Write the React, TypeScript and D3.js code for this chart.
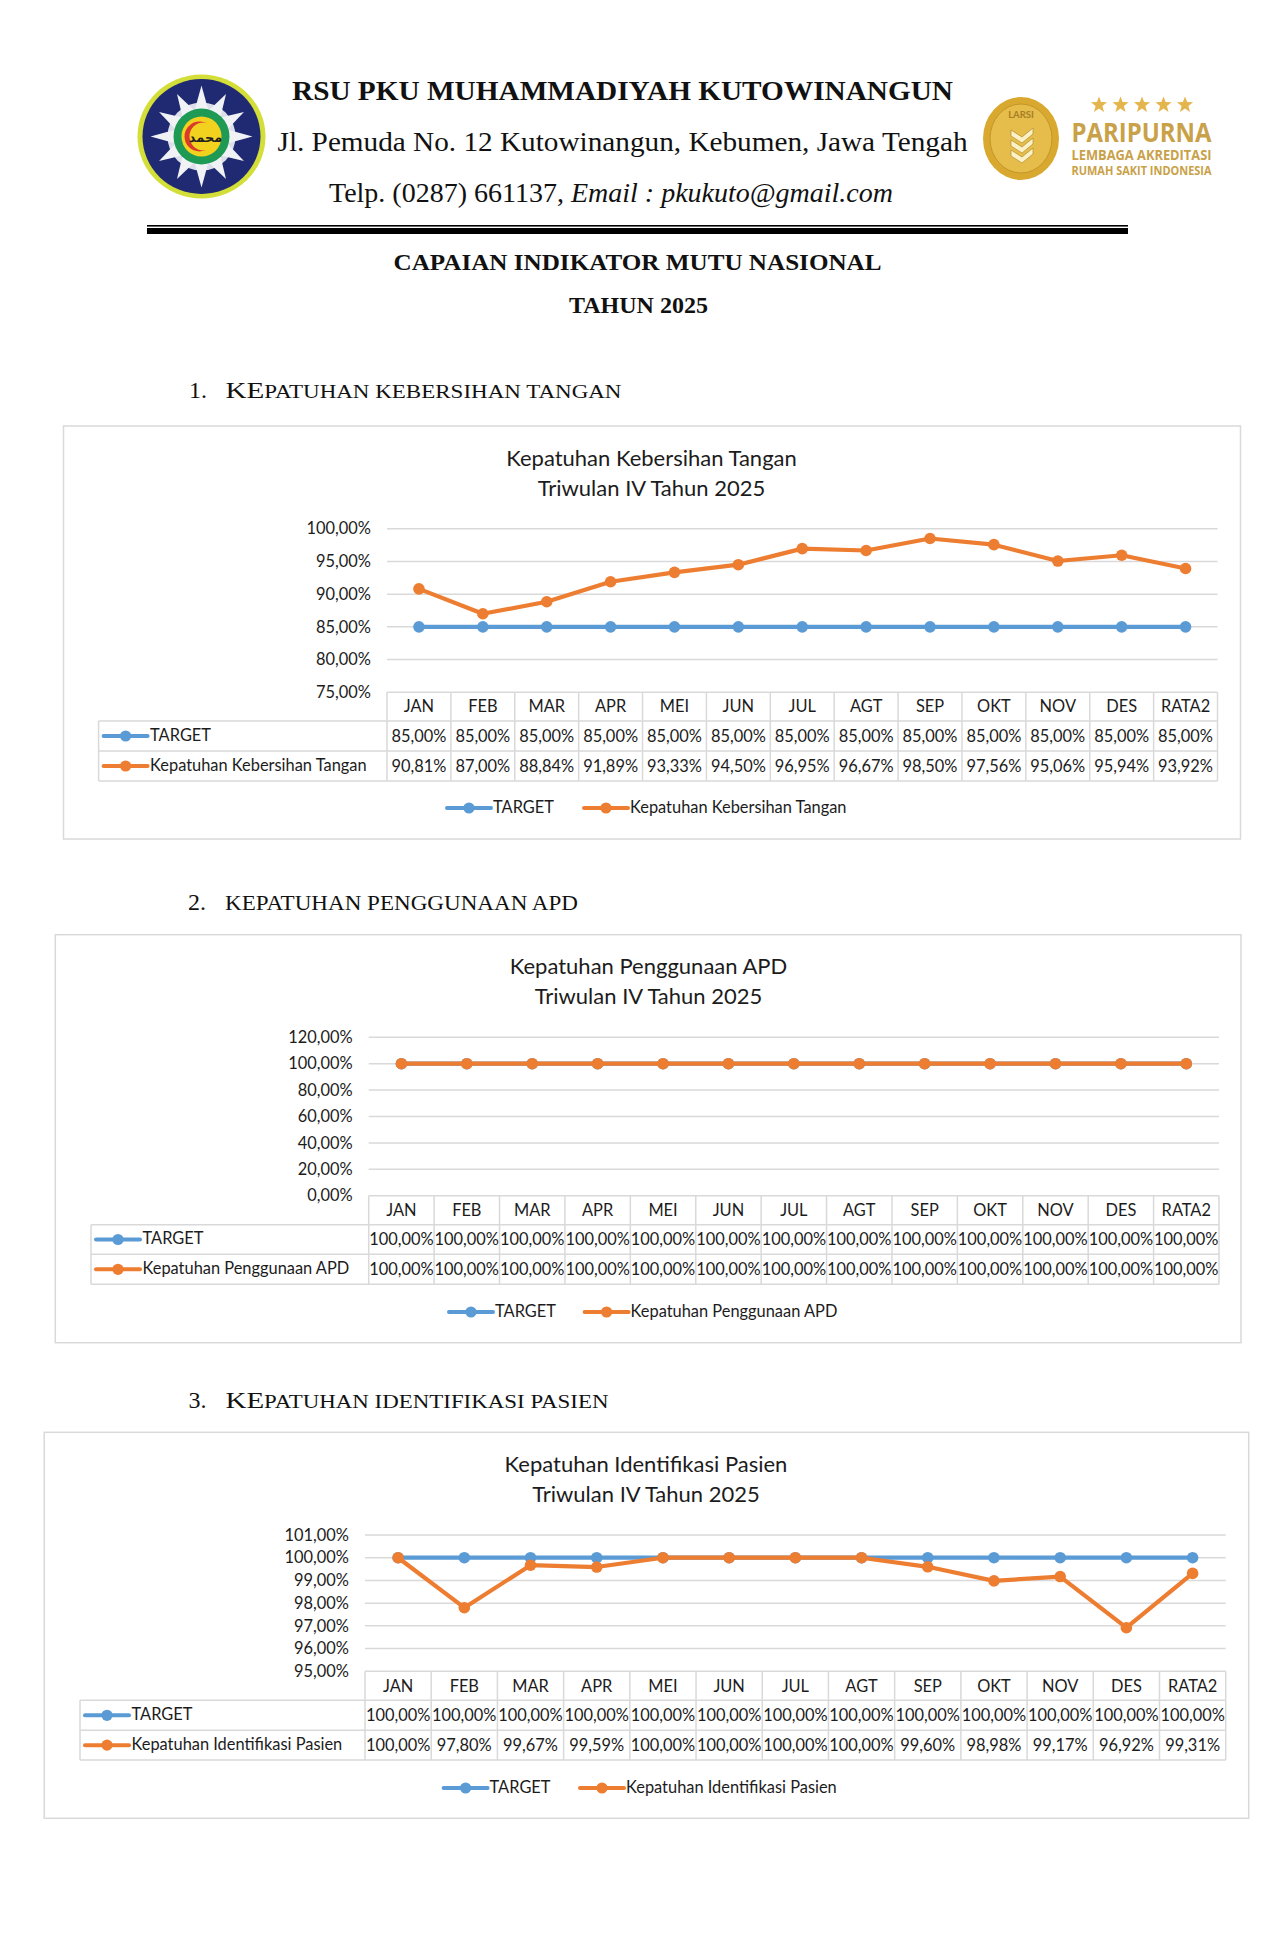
import React from "react";
import * as d3 from "d3";

// ---------- data ----------
const months = ["JAN", "FEB", "MAR", "APR", "MEI", "JUN", "JUL", "AGT", "SEP", "OKT", "NOV", "DES", "RATA2"];

const targetTangan = [85, 85, 85, 85, 85, 85, 85, 85, 85, 85, 85, 85, 85];
const capaianTangan = [90.81, 87.0, 88.84, 91.89, 93.33, 94.5, 96.95, 96.67, 98.5, 97.56, 95.06, 95.94, 93.92];
const ticksTangan = [75, 80, 85, 90, 95, 100];

const targetApd = [100, 100, 100, 100, 100, 100, 100, 100, 100, 100, 100, 100, 100];
const capaianApd = [100, 100, 100, 100, 100, 100, 100, 100, 100, 100, 100, 100, 100];
const ticksApd = [0, 20, 40, 60, 80, 100, 120];

const targetPasien = [100, 100, 100, 100, 100, 100, 100, 100, 100, 100, 100, 100, 100];
const capaianPasien = [100, 97.8, 99.67, 99.59, 100, 100, 100, 100, 99.6, 98.98, 99.17, 96.92, 99.31];
const ticksPasien = [95, 96, 97, 98, 99, 100, 101];

const BLUE = "#5B9BD5";
const ORANGE = "#ED7D31";
const GRID = "#D9D9D9";
const INK = "#1c1c1c";
const SANS = "Lato, 'Open Sans', sans-serif";
const SERIF = "'Liberation Serif', serif";
const GOLD = "#C9A148";

const pct = (v: number) => `${v.toFixed(2).replace(".", ",")}%`;

type ChartProps = {
  title: string;
  name: string;
  target: number[];
  actual: number[];
  ticks: number[];
  frame: [number, number, number, number];
  titleX: number;
  titleY: [number, number];
  labelLeft: number;
  tableX: [number, number];
  gridTop: number;
  rows: [number, number, number, number];
  legendY: number;
  legendX: [number, number];
  cellFont?: number;
};

function Key({ x, y, color }: { x: number; y: number; color: string }) {
  return (
    <g>
      <line x1={x} x2={x + 44} y1={y} y2={y} stroke={color} strokeWidth={4} strokeLinecap="round" />
      <circle cx={x + 22} cy={y} r={5.6} fill={color} />
    </g>
  );
}

function Chart(p: ChartProps) {
  const [fx0, fy0, fx1, fy1] = p.frame;
  const [r0, r1, r2, r3] = p.rows;
  const x = d3.scaleBand<string>().domain(months).range(p.tableX);
  const y = d3
    .scaleLinear()
    .domain([p.ticks[0], p.ticks[p.ticks.length - 1]])
    .range([r0, p.gridTop]);
  const line = d3
    .line<number>()
    .x((_, i) => (x(months[i]) as number) + x.bandwidth() / 2)
    .y((d) => y(d));
  const series = [
    { values: p.target, color: BLUE },
    { values: p.actual, color: ORANGE },
  ];
  const tableRight = p.tableX[1];
  const rowMid = (a: number, b: number) => (a + b) / 2;
  const txt = { fontFamily: SANS, fill: INK };
  const cellFont = p.cellFont ?? 16.4;
  return (
    <g>
      <rect x={fx0} y={fy0} width={fx1 - fx0} height={fy1 - fy0} fill="#fff" stroke={GRID} strokeWidth={1.5} />
      <text x={p.titleX} y={p.titleY[0]} dy="0.35em" textAnchor="middle" fontSize={22} {...txt}>{p.title}</text>
      <text x={p.titleX} y={p.titleY[1]} dy="0.35em" textAnchor="middle" fontSize={22} {...txt}>Triwulan IV Tahun 2025</text>

      {p.ticks.map((t) => (
        <g key={t}>
          {t !== p.ticks[0] && (
            <line x1={p.tableX[0]} x2={tableRight} y1={y(t)} y2={y(t)} stroke={GRID} strokeWidth={1.5} />
          )}
          <text x={p.tableX[0] - 16} y={y(t)} dy="0.35em" textAnchor="end" fontSize={16.4} {...txt}>{pct(t)}</text>
        </g>
      ))}

      {/* data table */}
      <g stroke={GRID} strokeWidth={1.5}>
        <line x1={p.tableX[0]} x2={tableRight} y1={r0} y2={r0} />
        <line x1={p.labelLeft} x2={tableRight} y1={r1} y2={r1} />
        <line x1={p.labelLeft} x2={tableRight} y1={r2} y2={r2} />
        <line x1={p.labelLeft} x2={tableRight} y1={r3} y2={r3} />
        <line x1={p.labelLeft} x2={p.labelLeft} y1={r1} y2={r3} />
        {months.map((m) => (
          <line key={m} x1={x(m) as number} x2={x(m) as number} y1={r0} y2={r3} />
        ))}
        <line x1={tableRight} x2={tableRight} y1={r0} y2={r3} />
      </g>
      {months.map((m, i) => {
        const cx = (x(m) as number) + x.bandwidth() / 2;
        return (
          <g key={m} textAnchor="middle" fontSize={cellFont}>
            <text x={cx} y={rowMid(r0, r1)} dy="0.35em" fontSize={16.4} {...txt}>{m}</text>
            <text x={cx} y={rowMid(r1, r2)} dy="0.35em" {...txt}>{pct(p.target[i])}</text>
            <text x={cx} y={rowMid(r2, r3)} dy="0.35em" {...txt}>{pct(p.actual[i])}</text>
          </g>
        );
      })}
      <Key x={p.labelLeft + 5} y={rowMid(r1, r2)} color={BLUE} />
      <Key x={p.labelLeft + 5} y={rowMid(r2, r3)} color={ORANGE} />
      <text x={p.labelLeft + 51.5} y={rowMid(r1, r2) - 1} dy="0.35em" fontSize={16.4} {...txt}>TARGET</text>
      <text x={p.labelLeft + 51.5} y={rowMid(r2, r3) - 1} dy="0.35em" fontSize={16.4} {...txt}>{p.name}</text>

      {/* series */}
      {series.map((s, k) => (
        <g key={k}>
          <path d={line(s.values) as string} fill="none" stroke={s.color} strokeWidth={4.2} strokeLinecap="round" strokeLinejoin="round" />
          {s.values.map((v, i) => (
            <circle key={i} cx={(x(months[i]) as number) + x.bandwidth() / 2} cy={y(v)} r={5.8} fill={s.color} />
          ))}
        </g>
      ))}

      {/* legend */}
      <Key x={p.legendX[0]} y={p.legendY} color={BLUE} />
      <text x={p.legendX[0] + 46} y={p.legendY - 1} dy="0.35em" fontSize={16.4} {...txt}>TARGET</text>
      <Key x={p.legendX[1]} y={p.legendY} color={ORANGE} />
      <text x={p.legendX[1] + 46} y={p.legendY - 1} dy="0.35em" fontSize={16.4} {...txt}>{p.name}</text>
    </g>
  );
}

function starPath(cx: number, cy: number, R: number) {
  const pts = d3.range(10).map((i) => {
    const a = -Math.PI / 2 + (i * Math.PI) / 5;
    const r = i % 2 === 0 ? R : R * 0.42;
    return [cx + r * Math.cos(a), cy + r * Math.sin(a)] as [number, number];
  });
  return (d3.line()(pts) as string) + "Z";
}

function LogoLeft() {
  const cx = 201.5;
  const cy = 136.5;
  return (
    <g>
      <ellipse cx={cx} cy={cy} rx={64} ry={62} fill="#D3DE38" />
      <ellipse cx={cx} cy={cy} rx={59} ry={57.5} fill="#1F2A72" />
      {d3.range(12).map((i) => {
        const a = (i * 30 * Math.PI) / 180;
        const long = i % 3 === 0 ? 51 : 49;
        const c = Math.cos(a);
        const s = Math.sin(a);
        const w = 8;
        const p = `M${cx + long * c},${cy + long * s}L${cx + 22 * c - w * s},${cy + 22 * s + w * c}L${cx + 22 * c + w * s},${cy + 22 * s - w * c}Z`;
        return <path key={i} d={p} fill="#F1F2F6" />;
      })}
      <circle cx={cx} cy={cy} r={34} fill="#F1F2F6" opacity={0.9} />
      <circle cx={cx} cy={cy} r={28} fill="#1E9A55" />
      <circle cx={cx} cy={cy} r={20} fill="#F3D21F" />
      <circle cx={cx - 2} cy={cy} r={15} fill="#D93A2B" />
      <circle cx={cx + 2} cy={cy} r={14} fill="#F3D21F" />
      <text x={cx + 4} y={cy + 5} textAnchor="middle" fontSize={13} fontWeight={700} fontFamily="'DejaVu Sans', sans-serif" fill="#222">محمد</text>
    </g>
  );
}

function LogoRight() {
  const starXs = [1099, 1120.5, 1142, 1163.5, 1185];
  return (
    <g>
      <ellipse cx={1021} cy={138.5} rx={38} ry={41.5} fill="#D9A92F" />
      <ellipse cx={1021} cy={138.5} rx={31} ry={34.5} fill="#E6BC4A" stroke="#C4962A" strokeWidth={1} />
      <text x={1021} y={118} textAnchor="middle" fontSize={9.5} fontWeight={700} fontFamily={SANS} fill="#A57F25">LARSI</text>
      {[0, 1, 2].map((i) => (
        <path
          key={i}
          d={`M1011,${130 + i * 10}l11,7l11,-9v6l-11,9l-11,-7Z`}
          fill="#FBF1C4"
          stroke="#A57F25"
          strokeWidth={0.6}
        />
      ))}
      {starXs.map((sx) => (
        <path key={sx} d={starPath(sx, 105, 8.5)} fill="#E4B54C" />
      ))}
      <g fontFamily="'Open Sans', sans-serif" fontWeight={700} fill={GOLD}>
        <text x={1071.5} y={141.5} fontSize={26} textLength={140} lengthAdjust="spacingAndGlyphs">PARIPURNA</text>
        <text x={1071.5} y={160} fontSize={13.5} textLength={140} lengthAdjust="spacingAndGlyphs">LEMBAGA AKREDITASI</text>
        <text x={1071.5} y={175} fontSize={12} textLength={140} lengthAdjust="spacingAndGlyphs">RUMAH SAKIT INDONESIA</text>
      </g>
    </g>
  );
}

export default function App() {
  const serif = { fontFamily: SERIF, fill: "#111" };
  return (
    <svg
      width={1276}
      height={1949}
      viewBox="0 0 1276 1949"
      style={{ position: "absolute", left: 0, top: 0, background: "#fff" }}
    >
      <LogoLeft />
      <LogoRight />

      <text x={292} y={100} fontSize={28} fontWeight={700} textLength={661} lengthAdjust="spacingAndGlyphs" {...serif}>
        RSU PKU MUHAMMADIYAH KUTOWINANGUN
      </text>
      <text x={277.5} y={151} fontSize={28} textLength={690} lengthAdjust="spacingAndGlyphs" {...serif}>
        Jl. Pemuda No. 12 Kutowinangun, Kebumen, Jawa Tengah
      </text>
      <text x={329} y={202} fontSize={28} {...serif}>
        Telp. (0287) 661137, <tspan fontStyle="italic">Email : pkukuto@gmail.com</tspan>
      </text>

      <rect x={147} y={225} width={981} height={1.6} fill="#000" />
      <rect x={147} y={228} width={981} height={6} fill="#000" />

      <text x={637.5} y={269.5} textAnchor="middle" fontSize={24} fontWeight={700} textLength={488} lengthAdjust="spacingAndGlyphs" {...serif}>
        CAPAIAN INDIKATOR MUTU NASIONAL
      </text>
      <text x={638.5} y={312.5} textAnchor="middle" fontSize={24} fontWeight={700} {...serif}>
        TAHUN 2025
      </text>

      <text x={189} y={398} fontSize={24} {...serif}>1.</text>
      <text x={225.5} y={398} fontSize={19} textLength={396} lengthAdjust="spacingAndGlyphs" {...serif}>
        <tspan fontSize={24}>KE</tspan>PATUHAN KEBERSIHAN TANGAN
      </text>
      <text x={188} y={910} fontSize={24} {...serif}>2.</text>
      <text x={225} y={910} fontSize={20} textLength={353} lengthAdjust="spacingAndGlyphs" {...serif}>
        KEPATUHAN PENGGUNAAN APD
      </text>
      <text x={188.5} y={1408} fontSize={24} {...serif}>3.</text>
      <text x={225.5} y={1408} fontSize={19} textLength={383} lengthAdjust="spacingAndGlyphs" {...serif}>
        <tspan fontSize={24}>KE</tspan>PATUHAN IDENTIFIKASI PASIEN
      </text>

      <Chart
        title="Kepatuhan Kebersihan Tangan"
        name="Kepatuhan Kebersihan Tangan"
        target={targetTangan}
        actual={capaianTangan}
        ticks={ticksTangan}
        frame={[63.5, 426, 1240.5, 839]}
        titleX={651.5}
        titleY={[458, 488]}
        labelLeft={98.6}
        tableX={[387, 1217.5]}
        gridTop={528.7}
        rows={[692.3, 721, 751, 781]}
        legendY={808}
        legendX={[447, 584]}
      />
      <Chart
        title="Kepatuhan Penggunaan APD"
        name="Kepatuhan Penggunaan APD"
        target={targetApd}
        actual={capaianApd}
        ticks={ticksApd}
        frame={[55.3, 934.7, 1241, 1342.7]}
        titleX={648.5}
        titleY={[966, 996.7]}
        labelLeft={91}
        tableX={[368.7, 1219]}
        gridTop={1037.3}
        rows={[1195.7, 1224.7, 1254.3, 1284.3]}
        legendY={1312}
        legendX={[449, 584.6]}
      />
      <Chart
        title="Kepatuhan Identifikasi Pasien"
        name="Kepatuhan Identifikasi Pasien"
        target={targetPasien}
        actual={capaianPasien}
        ticks={ticksPasien}
        frame={[44.2, 1432.3, 1248.7, 1818.3]}
        titleX={646}
        titleY={[1464, 1494]}
        labelLeft={80}
        tableX={[365, 1225.7]}
        gridTop={1535}
        rows={[1671.3, 1700.3, 1730.3, 1760]}
        legendY={1788}
        legendX={[443.6, 580]}
      />
    </svg>
  );
}
